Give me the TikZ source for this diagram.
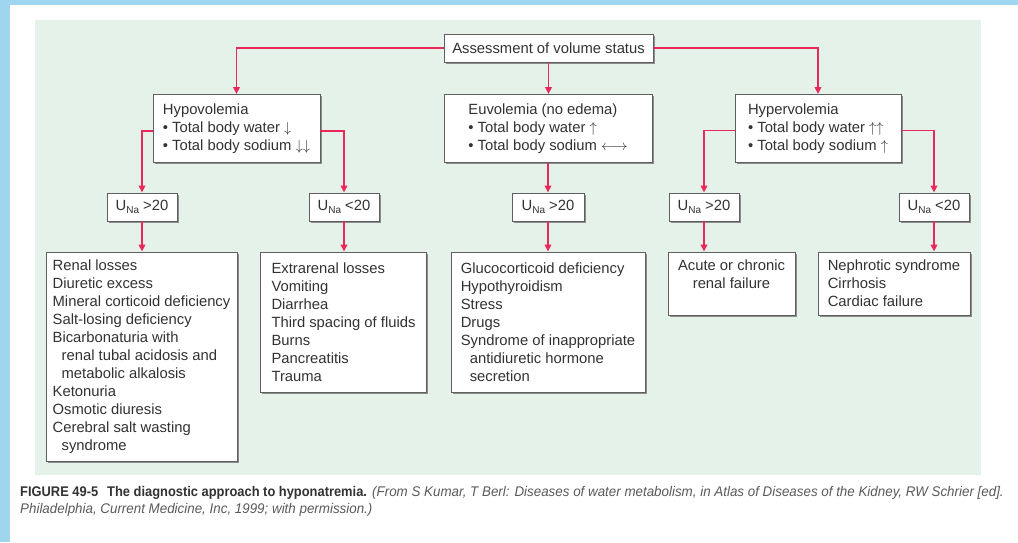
\documentclass[tikz,border=0pt]{standalone}
\usepackage{fontspec}
\setmainfont{Liberation Sans}
\newfontfamily\capfont[FakeStretch=0.92]{Liberation Sans}
\newfontfamily\capitfont[FakeStretch=0.955]{Liberation Sans}
\usetikzlibrary{arrows.meta,shadows}
\definecolor{panelgreen}{RGB}{228,242,233}
\definecolor{linkred}{RGB}{234,40,92}
\definecolor{txtgray}{RGB}{50,50,50}
\definecolor{boxline}{RGB}{95,95,95}
\definecolor{bgblue}{RGB}{160,213,240}
\definecolor{capgray}{RGB}{90,90,90}
\newcommand{\mainsz}{\fontsize{14.8}{18}\selectfont}
\newcommand{\una}{U\raisebox{-3pt}{\fontsize{10}{10}\selectfont Na}}
\begin{document}
\begin{tikzpicture}[x=1pt,y=-1pt,
  box/.style={draw=boxline, line width=0.9pt, fill=white, text=txtgray,
    font=\mainsz, inner sep=0pt,
    drop shadow={shadow xshift=1.6pt, shadow yshift=-1.6pt, fill=black!45, opacity=1}},
  lbox/.style={box, align=left},
  cbox/.style={box, align=center},
  conn/.style={draw=linkred, line width=1.8pt, -{Triangle[length=7pt,width=6.5pt]}},
]
\useasboundingbox (0,0) rectangle (1018,542);
% background
\fill[bgblue] (0,0) rectangle (1018,542);
\fill[white] (10,5) rectangle (1018,542);
\fill[panelgreen] (35,20) rectangle (981,475);

% level 1
\node[cbox, minimum width=209pt, minimum height=28pt] (assess) at (548.5,48) {Assessment of volume status};

% level 2
\node[lbox, minimum width=167pt, minimum height=68pt] (hypo) at (236.5,128.5)
  {Hypovolemia\\\textbullet\ Total body water $\downarrow$\\\textbullet\ Total body sodium $\downarrow\downarrow$};
\node[lbox, minimum width=208pt, minimum height=68pt] (euvo) at (548,128.5)
  {Euvolemia (no edema)\\\textbullet\ Total body water $\uparrow$\\\textbullet\ Total body sodium $\longleftrightarrow$};
\node[lbox, minimum width=166pt, minimum height=68pt] (hyper) at (818,128.5)
  {Hypervolemia\\\textbullet\ Total body water $\uparrow\uparrow$\\\textbullet\ Total body sodium $\uparrow$};

% level 3
\node[cbox, minimum width=70pt, minimum height=28pt] (u1) at (142,207) {\una\ {>}20};
\node[cbox, minimum width=70pt, minimum height=28pt] (u2) at (344,207) {\una\ {<}20};
\node[cbox, minimum width=72pt, minimum height=28pt] (u3) at (548,207) {\una\ {>}20};
\node[cbox, minimum width=70pt, minimum height=28pt] (u4) at (704,207) {\una\ {>}20};
\node[cbox, minimum width=70pt, minimum height=28pt] (u5) at (934,207) {\una\ {<}20};

% level 4
\node[lbox, minimum width=191pt, minimum height=209pt] (r1) at (141.5,356.5)
  {Renal losses\\Diuretic excess\\Mineral corticoid deficiency\\Salt-losing deficiency\\Bicarbonaturia with\\\hspace*{9pt}renal tubal acidosis and\\\hspace*{9pt}metabolic alkalosis\\Ketonuria\\Osmotic diuresis\\Cerebral salt wasting\\\hspace*{9pt}syndrome};
\node[lbox, minimum width=166pt, minimum height=140pt] (r2) at (343.5,322)
  {Extrarenal losses\\Vomiting\\Diarrhea\\Third spacing of fluids\\Burns\\Pancreatitis\\Trauma};
\node[lbox, minimum width=194pt, minimum height=140pt] (r3) at (548,322)
  {Glucocorticoid deficiency\\Hypothyroidism\\Stress\\Drugs\\Syndrome of inappropriate\\\hspace*{9pt}antidiuretic hormone\\\hspace*{9pt}secretion};
\node[cbox, minimum width=127pt, minimum height=63pt] (r4) at (731.5,283.5)
  {Acute or chronic\\renal failure\\\mbox{}};
\node[lbox, minimum width=152pt, minimum height=63pt] (r5) at (894,283.5)
  {Nephrotic syndrome\\Cirrhosis\\Cardiac failure};

% connectors
\draw[conn] (assess.west) -| (hypo.north);
\draw[conn] (assess.east) -| (hyper.north);
\draw[conn] (assess.south) -- (assess.south |- euvo.north);
\draw[conn] ([yshift=-2.5pt]hypo.west) -| (u1.north);
\draw[conn] ([yshift=-2.5pt]hypo.east) -| (u2.north);
\draw[conn] (euvo.south) -- (euvo.south |- u3.north);
\draw[conn] ([yshift=-2pt]hyper.west) -| (u4.north);
\draw[conn] ([yshift=-2pt]hyper.east) -| (u5.north);
\draw[conn] (u1.south) -- (u1.south |- r1.north);
\draw[conn] (u2.south) -- (u2.south |- r2.north);
\draw[conn] (u3.south) -- (u3.south |- r3.north);
\draw[conn] (u4.south) -- (u4.south |- r4.north);
\draw[conn] (u5.south) -- (u5.south |- r5.north);

% caption
\node[anchor=north west, inner sep=0pt, align=left, font={\fontsize{14}{17.5}\selectfont}, text=txtgray] (cap) at (20,486)
  {{\capfont\bfseries FIGURE 49-5\hspace{9pt}The diagnostic approach to hyponatremia.} {\capitfont\itshape\color{capgray}(From S Kumar, T Berl: Diseases of water metabolism, in Atlas of Diseases of the Kidney, RW Schrier [ed].}\\
   {\capitfont\itshape\color{capgray}Philadelphia, Current Medicine, Inc, 1999; with permission.)}};
\end{tikzpicture}
\end{document}
